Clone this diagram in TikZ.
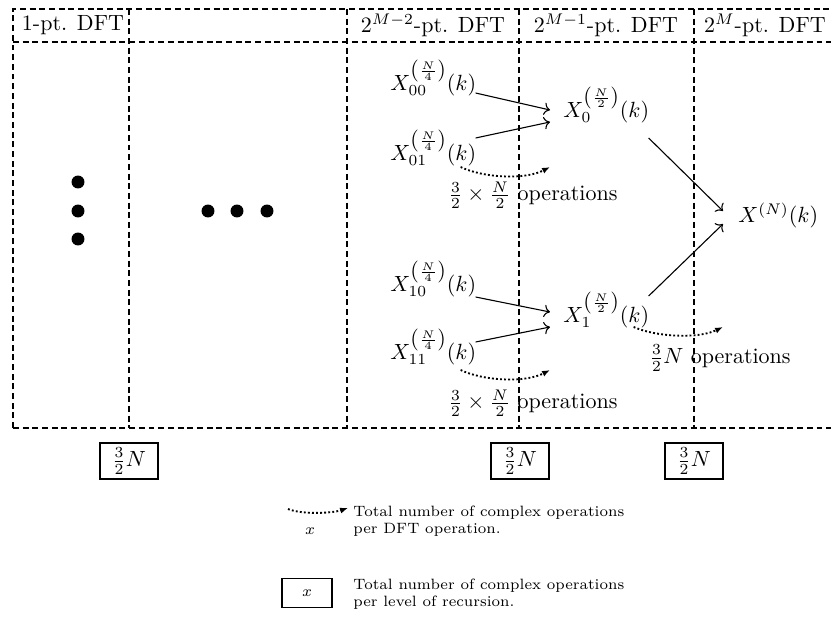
\documentclass[tikz,border=0pt]{standalone}
\usetikzlibrary{calc,arrows.meta}
\begin{document}
\begin{tikzpicture}[x=0.4545pt,y=-0.4545pt,
  grid/.style={dash pattern=on 2.7pt off 1.7pt,line width=0.7pt},
  xnode/.style={anchor=base west,inner sep=0pt},
  hdr/.style={inner sep=0pt},
  arr/.style={->,line width=0.5pt},
  ops/.style={-{Latex[length=3.6pt,width=2.8pt]},line width=0.85pt,densely dotted},
  opbox/.style={draw,line width=0.7pt,minimum width=26.4pt,minimum height=16.4pt,inner sep=0pt},
  dot/.style={circle,fill,inner sep=0pt,minimum size=5.9pt},
  legfont/.style={font=\fontsize{6.8}{7.8}\selectfont}
]
\useasboundingbox (0,0) rectangle (831,621);
% grid
\draw[grid] (13,428) -- (13,9) -- (831,9);
\draw[grid] (13,42) -- (831,42);
\draw[grid] (13,428) -- (831,428);
\foreach \xx in {129,347,519,694} \draw[grid] (\xx,9) -- (\xx,428);
% headers
\node[hdr] (h1) at (73,25) {1-pt. DFT};
\node[hdr] (h2) at (433,25) {$2^{M-2}$-pt. DFT};
\node[hdr] (h3) at (606,25) {$2^{M-1}$-pt. DFT};
\node[hdr] (h4) at (765,25) {$2^{M}$-pt. DFT};
% dots
\node[dot] (d1) at (78,182) {};
\node[dot] (d2) at (78,211) {};
\node[dot] (d3) at (78,239) {};
\node[dot] (d4) at (208,211) {};
\node[dot] (d5) at (237,211) {};
\node[dot] (d6) at (267,211) {};
% X nodes
\node[xnode] (x00) at (390,90) {$X_{00}^{\left(\frac{N}{4}\right)}(k)$};
\node[xnode] (x01) at (390,160) {$X_{01}^{\left(\frac{N}{4}\right)}(k)$};
\node[xnode] (x0) at (563,117) {$X_{0}^{\left(\frac{N}{2}\right)}(k)$};
\node[xnode] (x10) at (390,291) {$X_{10}^{\left(\frac{N}{4}\right)}(k)$};
\node[xnode] (x11) at (390,359) {$X_{11}^{\left(\frac{N}{4}\right)}(k)$};
\node[xnode] (x1) at (563,322) {$X_{1}^{\left(\frac{N}{2}\right)}(k)$};
\node[xnode] (xN) at (738,222) {$X^{(N)}(k)$};
% solid arrows
\draw[arr] ($(x00.base east)+(-1,3)$) -- ($(x0.base west)+(-13,-7)$);
\draw[arr] ($(x01.base east)+(-1,-22)$) -- ($(x0.base west)+(-13,5)$);
\draw[arr] ($(x10.base east)+(-1,6)$) -- ($(x1.base west)+(-13,-10)$);
\draw[arr] ($(x11.base east)+(-1,-17)$) -- ($(x1.base west)+(-13,5)$);
\draw[arr] ($(x0.base east)+(-1,21)$) -- ($(xN.base west)+(-15,-11)$);
\draw[arr] ($(x1.base east)+(-1,-26)$) -- ($(xN.base west)+(-15,2)$);
% operation arrows
\coordinate (c0) at (550,167);
\coordinate (c1) at (550,370);
\coordinate (c2) at (723,327);
\draw[ops] ($(x01.base east)+(-16,7)$) .. controls +(23,11) and +(-25,13) .. (c0);
\draw[ops] ($(x11.base east)+(-16,11)$) .. controls +(23,11) and +(-25,13) .. (c1);
\draw[ops] ($(x1.base east)+(-16,5)$) .. controls +(23,10) and +(-25,12) .. (c2);
\node (o0) at (533,195) {$\frac{3}{2}\times\frac{N}{2}$ operations};
\node (o1) at (533,403) {$\frac{3}{2}\times\frac{N}{2}$ operations};
\node (o2) at (720,358) {$\frac{3}{2}N$ operations};
% boxes
\node[opbox] (b1) at (129,461) {$\frac{3}{2}N$};
\node[opbox] (b2) at (520,461) {$\frac{3}{2}N$};
\node[opbox] (b3) at (694,461) {$\frac{3}{2}N$};
% legend
\coordinate (l1) at (288,509);
\coordinate (l2) at (348,508);
\draw[ops] (l1) .. controls +(15,6) and +(-15,5) .. (l2);
\node[legfont] (lx) at (310,531) {$x$};
\node[legfont,anchor=west,align=left,inner sep=0pt] (lt1) at (353,521) {Total number of complex operations\\per DFT operation.};
\node[draw,line width=0.7pt,minimum width=22.7pt,minimum height=13.2pt,inner sep=0pt,legfont] (lb) at (307,593) {$x$};
\node[legfont,anchor=west,align=left,inner sep=0pt] (lt2) at (353,594) {Total number of complex operations\\per level of recursion.};
\end{tikzpicture}
\end{document}
